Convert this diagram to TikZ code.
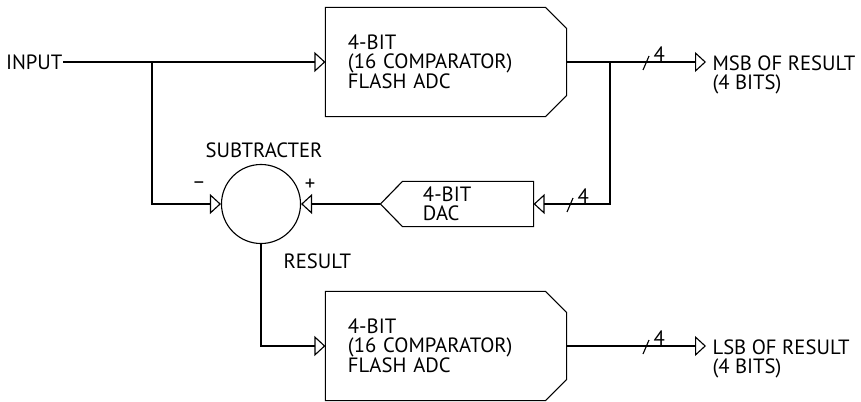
\documentclass[tikz,border=0pt]{standalone}
\usepackage{fontspec}
\setmainfont{PT Sans}
\usepackage{tikz}
\usetikzlibrary{arrows.meta, positioning, calc}
\tikzstyle{adcnode} = [rectangle, minimum width=6cm, minimum height=2.7cm, text width=4.9cm, inner xsep=0.55cm, inner ysep=0pt, align=left]
\tikzstyle{dacnode} = [rectangle, minimum width=3.25cm, minimum height=1.1cm, text width=2.25cm, inner xsep=0.5cm, inner ysep=0pt, align=left]
\tikzstyle{sumnode} = [circle, draw, minimum size=1.975cm, inner sep=0pt]
\tikzstyle{lbl} = [inner sep=0pt, align=left]
\tikzstyle{arrw} = [-{Triangle[open, length=0.275cm, width=0.5cm]}]

\begin{document}
\begin{tikzpicture}[x=0.025cm, y=-0.025cm, line width=0.8pt, font=\fontsize{14.7}{13.4}\selectfont]
    \useasboundingbox (0,0) rectangle (861,401);

    % Blocks
    \node (input) [lbl, anchor=east] at (63,62) {INPUT};
    \node (adcA) [adcnode] at (446,62) {4-BIT\\(16 COMPARATOR)\\FLASH ADC};
    \node (adcB) [adcnode] at (446,346) {4-BIT\\(16 COMPARATOR)\\FLASH ADC};
    \node (sub) [sumnode] at (261,204) {};
    \node (sublbl) [lbl, above=0.14cm of sub, xshift=0.075cm] {SUBTRACTER};
    \node (minus) [lbl] at (199,185) {\textendash};
    \node (plus) [lbl] at (310,185) {+};
    \node (reslbl) [lbl, anchor=west] at (283,261) {RESULT};
    \node (dac) [dacnode] at (468,204) {4-BIT\\DAC};
    \coordinate (dactip) at ($(dac.west)+(-22,0)$);
    \node (msb) [lbl, anchor=west] at (712,75) {MSB OF RESULT\\(4 BITS)};
    \node (lsb) [lbl, anchor=west] at (712,359) {LSB OF RESULT\\(4 BITS)};

    % Block outlines
    \foreach \b in {adcA, adcB}
        \draw (\b.north west) -- ($(\b.north east)+(-21,0)$) -- ($(\b.north east)+(0,21)$)
            -- ($(\b.south east)+(0,-21)$) -- ($(\b.south east)+(-21,0)$) -- (\b.south west) -- cycle;
    \draw (dac.north east) -- (dac.south east) -- (dac.south west) -- (dactip) -- (dac.north west) -- cycle;

    % Junctions and outputs
    \coordinate (j1) at (152,62);
    \coordinate (j2) at (610,62);
    \coordinate (msbout) at (706,62);
    \coordinate (lsbout) at (706,346);

    % Connectors
    \draw (input.east) -- (j1);
    \draw [arrw] (j1) -- (adcA.west);
    \draw [arrw] (j1) |- (sub.west);
    \draw (adcA.east) -- (j2);
    \draw [arrw] (j2) -- (msbout);
    \draw [arrw] (j2) |- (dac.east);
    \draw [arrw] (dactip) -- (sub.east);
    \draw [arrw] (sub.south) |- (adcB.west);
    \draw [arrw] (adcB.east) -- (lsbout);

    % Bus width marks
    \foreach \s/\p in {sA/{646,62}, sB/{570,204}, sC/{646,346}} {
        \coordinate (\s) at (\p);
        \draw (\s) ++(-3,8) -- ++(6,-14);
        \node [lbl, anchor=base west] at ($(\s)+(7,-1)$) {4};
    }
\end{tikzpicture}
\end{document}
